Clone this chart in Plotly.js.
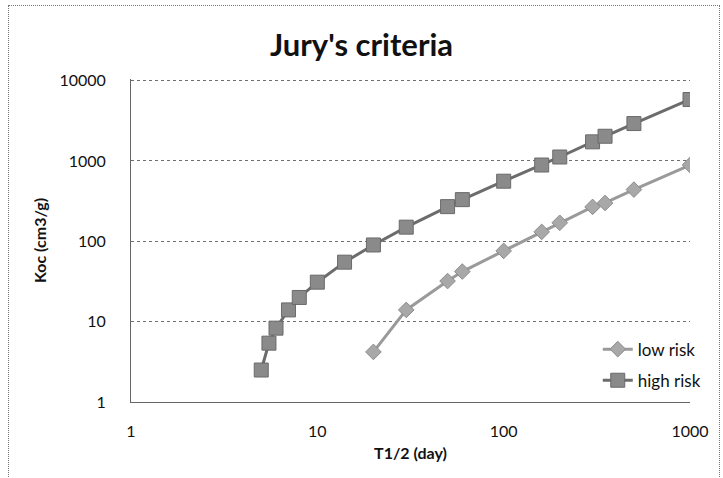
<!DOCTYPE html>
<html>
<head>
<meta charset="utf-8">
<script src="https://cdn.plot.ly/plotly-3.0.1.min.js"></script>
<style>
  html, body { margin: 0; padding: 0; background: #fff; }
  #chart { width: 723px; height: 478px; position: relative; }
  #frame { position: absolute; left: 8px; top: 5px; width: 710px; height: 480px;
           border: 1px dotted #777; pointer-events: none; z-index: 5; }
</style>
</head>
<body>
<div id="chart"><div id="frame"></div></div>
<script>
// Half-life (days) and Koc (cm3/g) for the two risk boundaries
const lowRiskT = [20, 30, 50, 60, 100, 160, 200, 300, 350, 500, 1000];
const lowRiskKoc = [4.2, 14, 32, 42, 76, 131, 170, 268, 300, 440, 890];

const highRiskT = [5, 5.5, 6, 7, 8, 10, 14, 20, 30, 50, 60, 100, 160, 200, 300, 350, 500, 1000];
const highRiskKoc = [2.5, 5.4, 8.3, 14, 20, 31, 55, 90, 150, 270, 330, 560, 890, 1120, 1730, 2030, 2920, 5820];

const xTicks = [1, 10, 100, 1000];
const yTicks = [1, 10, 100, 1000, 10000];

const FONT = 'Lato, "Open Sans", sans-serif';

const traces = [
  {
    name: 'low risk', x: lowRiskT, y: lowRiskKoc, mode: 'lines+markers', legendgroup: 'low',
    line: { color: '#9a9a9a', width: 3 },
    marker: { symbol: 'diamond', size: 12, color: '#a8a8a8', line: { color: '#8c8c8c', width: 1 } }
  },
  {
    name: 'high risk', x: highRiskT, y: highRiskKoc, mode: 'lines+markers', legendgroup: 'high',
    line: { color: '#6c6c6c', width: 3 },
    marker: { symbol: 'square', size: 14, color: '#8a8a8a', line: { color: '#6a6a6a', width: 1 } }
  }
];

const layout = {
  width: 723, height: 478,
  // fixed margins: the legend hangs over the right edge without shrinking the plot
  margin: { l: 131, r: 33, t: 79, b: 76, autoexpand: false },
  paper_bgcolor: '#fff', plot_bgcolor: '#fff',
  font: { family: FONT, size: 16, color: '#111' },
  title: { text: "<b>Jury's criteria</b>", font: { family: FONT, size: 31, color: '#111' },
           x: 0.5, xanchor: 'center', y: 0.906, yanchor: 'middle' },
  xaxis: {
    type: 'log', range: [0, 3], tickvals: xTicks, ticktext: xTicks.map(String),
    automargin: false,
    showgrid: false, zeroline: false, showline: true, linecolor: '#666', linewidth: 1,
    mirror: false, ticks: '', ticklabelstandoff: 15,
    tickfont: { family: FONT, size: 16 },
    title: { text: '<b>T1/2 (day)</b>', font: { family: FONT, size: 16 }, standoff: 8 }
  },
  yaxis: {
    // top of range sits a little above 10000 so that its gridline is drawn
    type: 'log', range: [0, 4.02], tickvals: yTicks, ticktext: yTicks.map(String),
    automargin: false,
    showgrid: true, gridcolor: '#6f6f6f', gridwidth: 1, griddash: 'dot',
    zeroline: false, showline: true, linecolor: '#666', linewidth: 1, ticks: '',
    ticklabelstandoff: 21, tickfont: { family: FONT, size: 16 },
    title: { text: '<b>Koc (cm3/g)</b>', font: { family: FONT, size: 16 }, standoff: 8 }
  },
  showlegend: true,
  legend: {
    x: 0.835, y: 0.218, xanchor: 'left', yanchor: 'top',
    bgcolor: 'rgba(0,0,0,0)', font: { family: FONT, size: 17, color: '#111' },
    tracegroupgap: 6, itemwidth: 30
  }
};

Plotly.newPlot('chart', traces, layout, { displayModeBar: false, staticPlot: true });
</script>
</body>
</html>
